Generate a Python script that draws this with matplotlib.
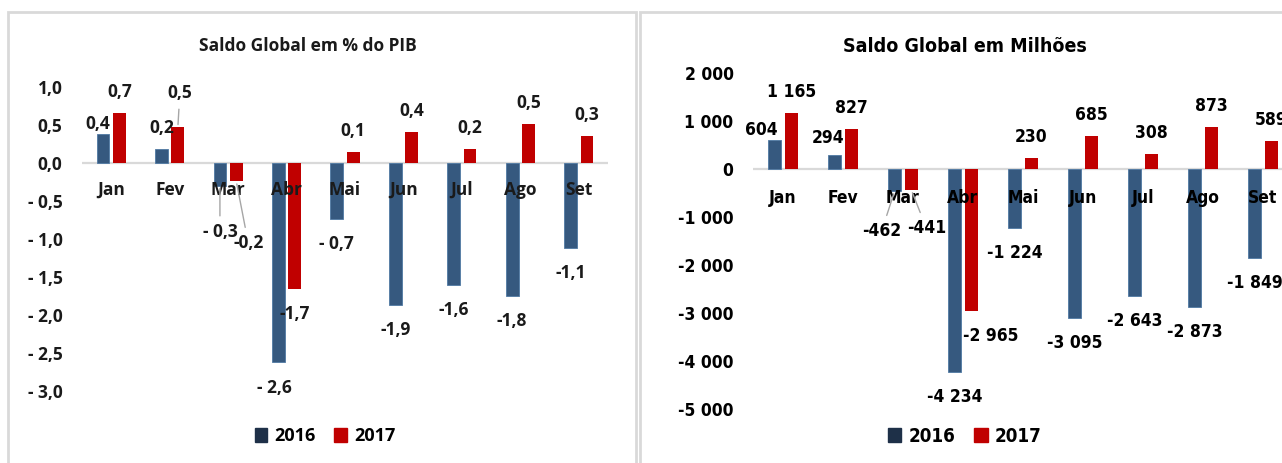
import matplotlib.pyplot as plt
from matplotlib.patches import Patch, Rectangle

# --- Data ---
MONTHS = ["Jan", "Fev", "Mar", "Abr", "Mai", "Jun", "Jul", "Ago", "Set"]
YEARS = ["2016", "2017"]

PIB_2016 = [0.38, 0.18, -0.30, -2.62, -0.74, -1.87, -1.60, -1.75, -1.12]
PIB_2017 = [0.66, 0.47, -0.24, -1.66, 0.14, 0.41, 0.19, 0.51, 0.35]
PIB_LBL_2016 = ["0,4", "0,2", "- 0,3", "- 2,6", "- 0,7", "-1,9", "-1,6", "-1,8", "-1,1"]
PIB_LBL_2017 = ["0,7", "0,5", "-0,2", "-1,7", "0,1", "0,4", "0,2", "0,5", "0,3"]
PIB_TICKS = [1.0, 0.5, 0.0, -0.5, -1.0, -1.5, -2.0, -2.5, -3.0]
PIB_TICK_LBL = ["1,0", "0,5", "0,0", "- 0,5", "- 1,0", "- 1,5", "- 2,0", "- 2,5", "- 3,0"]

MIL_2016 = [604, 294, -462, -4234, -1224, -3095, -2643, -2873, -1849]
MIL_2017 = [1165, 827, -441, -2965, 230, 685, 308, 873, 589]
MIL_TICKS = [2000, 1000, 0, -1000, -2000, -3000, -4000, -5000]

BLUE = "#36597f"
BLUE_DARK = "#1e3048"
RED = "#c00000"

PX = 72 / 100  # pixels -> points


def fmt_mil(v):
    s = f"{abs(v):,}".replace(",", " ")
    return ("-" if v < 0 else "") + s


# label offsets in pixels (dx, dy) where Excel moved them, plus leader lines
PIB_OFFS = {(0, 0): (-5, 10), (1, 1): (2, 34, True), (0, 2): (0, -46, True),
            (1, 2): (12, -62, True), (0, 3): (-4, -26)}
MIL_OFFS = {(0, 0): (-13, 10), (0, 1): (-7, 17), (0, 2): (-13, -40, True),
            (1, 2): (15, -38, True), (1, 3): (19, -25)}


def draw_panel(ax, s16, s17, l16, l17, offs, font, ylim, ticks, tick_lbl, lab_dy):
    x = list(range(len(MONTHS)))
    w = 0.22
    ax.bar([i - 0.14 for i in x], s16, w, color=BLUE, edgecolor="#4f79a3", lw=0.6, zorder=2)
    ax.bar([i + 0.14 for i in x], s17, w, color=RED, zorder=2)
    ax.axhline(0, color="#d9d9d9", lw=1.6, zorder=1)
    ax.set_xlim(-0.5, len(MONTHS) - 0.5)
    ax.set_ylim(*ylim)
    ax.set_yticks(ticks)
    ax.set_yticklabels(tick_lbl, fontdict=font)
    ax.tick_params(axis="y", length=0, pad=14)
    ax.set_xticks([])
    for sp in ax.spines.values():
        sp.set_visible(False)
    ax.patch.set_alpha(0)

    for i, m in enumerate(MONTHS):
        ax.annotate(m, (i, 0), xytext=(0, lab_dy), textcoords="offset points",
                    ha="center", va="center", zorder=4, **font)

    for k, (vals, lbls, dxy) in enumerate([(s16, l16, -0.14), (s17, l17, 0.14)]):
        for i, (v, t) in enumerate(zip(vals, lbls)):
            o = offs.get((k, i))
            if o is None:
                o = (0, 21) if v >= 0 else (0, -25)
            dx, dy = o[0] * PX, o[1] * PX
            arrow = None
            if len(o) > 2:
                arrow = dict(arrowstyle="-", color="#a6a6a6", lw=1.0, shrinkA=3, shrinkB=2)
            ax.annotate(t, (i + dxy, v), xytext=(dx, dy), textcoords="offset points",
                        ha="center", va="center", zorder=5, arrowprops=arrow, **font)


fig = plt.figure(figsize=(12.82, 4.63), dpi=100)

# panel frames
fig.patches.append(Rectangle((8 / 1282, -0.05), 628 / 1282, 1 - 12 / 463 + 0.05,
                             transform=fig.transFigure, fill=False, ec="#d9d9d9", lw=2))
fig.patches.append(Rectangle((640 / 1282, -0.05), 700 / 1282, 1 - 12 / 463 + 0.05,
                             transform=fig.transFigure, fill=False, ec="#d9d9d9", lw=2))

LEFT_FAM = ["Open Sans", "DejaVu Sans"]
RIGHT_FAM = ["DejaVu Sans"]
font_l = dict(family=LEFT_FAM, fontweight="bold", fontsize=12.5, color="#1a1a1a")
font_r = dict(family=RIGHT_FAM, fontweight="bold", fontstretch="condensed",
              fontsize=12.5, color="#000000")

ax1 = fig.add_axes([82 / 1282, 1 - 391 / 463, 526 / 1282, 304 / 463])
draw_panel(ax1, PIB_2016, PIB_2017, PIB_LBL_2016, PIB_LBL_2017, PIB_OFFS, font_l,
           (-3.0, 1.0), PIB_TICKS, PIB_TICK_LBL, -19.5)

ax2 = fig.add_axes([753 / 1282, 1 - 409 / 463, 540 / 1282, 336 / 463])
draw_panel(ax2, MIL_2016, MIL_2017, [fmt_mil(v) for v in MIL_2016],
           [fmt_mil(v) for v in MIL_2017], MIL_OFFS, font_r,
           (-5000, 2000), MIL_TICKS, [fmt_mil(v) for v in MIL_TICKS], -21)

fig.text(308 / 1282, 1 - 46 / 463, "Saldo Global em % do PIB", ha="center", va="center",
         family=LEFT_FAM, fontweight="bold", fontsize=12.5, color="#1a1a1a")
fig.text(965 / 1282, 1 - 46 / 463, "Saldo Global em Milhões", ha="center", va="center",
         family=RIGHT_FAM, fontweight="bold", fontstretch="condensed", fontsize=14)

handles = [Patch(color=BLUE_DARK), Patch(color=RED)]
fig.legend(handles, YEARS, loc="center", bbox_to_anchor=(325 / 1282, 1 - 436 / 463),
           ncol=2, frameon=False, handlelength=0.7, handleheight=0.8, handletextpad=0.4,
           columnspacing=1.0, prop=dict(family=LEFT_FAM, weight="bold", size=13))
fig.legend(handles, YEARS, loc="center", bbox_to_anchor=(965 / 1282, 1 - 436 / 463),
           ncol=2, frameon=False, handlelength=0.7, handleheight=0.8, handletextpad=0.4,
           columnspacing=1.0,
           prop=dict(family=RIGHT_FAM, weight="bold", stretch="condensed", size=13.5))

fig.savefig("out.png", dpi=100)
